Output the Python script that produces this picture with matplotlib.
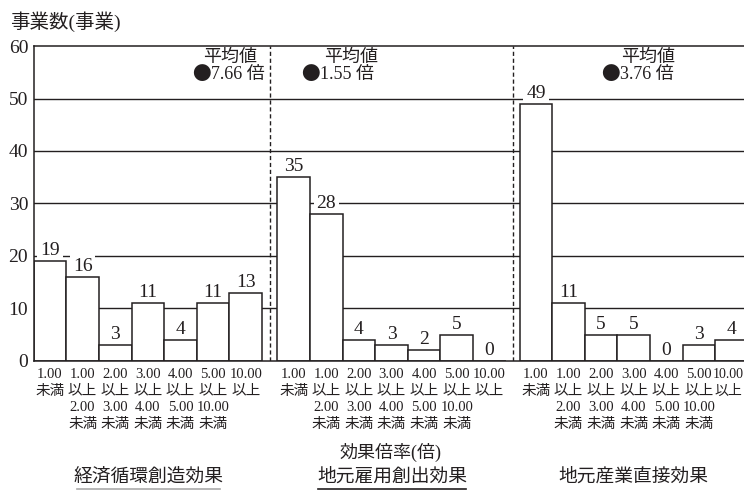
import matplotlib
matplotlib.use("Agg")
import matplotlib.pyplot as plt
from matplotlib.lines import Line2D

FAM = ['Liberation Serif', 'Noto Sans CJK JP']
plt.rcParams['font.family'] = FAM

categories = ["1.00\n未満", "1.00\n以上\n2.00\n未満", "2.00\n以上\n3.00\n未満",
              "3.00\n以上\n4.00\n未満", "4.00\n以上\n5.00\n未満",
              "5.00\n以上\n10.00\n未満", "10.00\n以上"]
group_names = ["経済循環創造効果", "地元雇用創出効果", "地元産業直接効果"]
keizai = [19, 16, 3, 11, 4, 11, 13]
koyou = [35, 28, 4, 3, 2, 5, 0]
sangyo = [49, 11, 5, 5, 0, 3, 4]
means = ["7.66", "1.55", "3.76"]
series = [keizai, koyou, sangyo]

INK = '#231f20'
TICK_FS = 10.5
TICK_LS = 1.36
fig = plt.figure(figsize=(7.44, 4.91), dpi=100)
ax = fig.add_axes([0.0453, 0.2648, 0.9547, 0.6415])

lefts = [0.0, 7.47, 14.9]
dashes = [7.25, 14.7]
mean_x = [6.02, 9.73, 18.84]
dot_x = [5.44, 8.77, 17.98]

ticks, ticklabels = [], []
for g, vals in enumerate(series):
    xs = [lefts[g] + i + 0.5 for i in range(len(vals))]
    ax.bar(xs, vals, width=1.0, color='white', edgecolor=INK, linewidth=1.1, zorder=2)
    for x, v in zip(xs, vals):
        ax.annotate(str(v), (x, v), xytext=(0, 1.5), textcoords='offset points',
                    ha='center', va='bottom', fontsize=14, color=INK, zorder=1.5,
                    bbox=dict(boxstyle='square,pad=0.15', fc='white', ec='none'))
    ticks += xs
    ticklabels += categories
    ax.text(mean_x[g], 57.9, "平均値", ha='center', va='center', fontsize=13, color=INK)
    ax.text(dot_x[g], 54.5, "●", ha='right', va='center', fontsize=13.5, color=INK,
            family=['Noto Sans CJK JP'])
    ax.text(dot_x[g], 54.5, means[g] + " 倍", ha='left', va='center',
            fontsize=13, color=INK)

for d in dashes:
    ax.plot([d, d], [0, 60], color=INK, linestyle=(0, (3, 2)), linewidth=1.0, zorder=3)

for y in range(10, 60, 10):
    ax.axhline(y, color=INK, linewidth=1.0, zorder=1)

ax.set_xlim(0, 21.78)
ax.set_ylim(0, 60)
ax.set_yticks(range(0, 61, 10))
ax.tick_params(axis='y', length=0, labelsize=14, colors=INK, pad=4)
ax.set_xticks(ticks)
shown = ticklabels[:-1] + [""]
ax.set_xticklabels(shown, fontsize=TICK_FS, color=INK, linespacing=TICK_LS, va='top')
ax.annotate(ticklabels[-1], xy=(1.0, 0), xycoords='axes fraction',
            xytext=(0, -5), textcoords='offset points', ha='right', va='top',
            multialignment='center', fontsize=10, color=INK, linespacing=1.43,
            annotation_clip=False)
ax.tick_params(axis='x', length=0, pad=5)
for s in ['left', 'bottom', 'top']:
    ax.spines[s].set_color(INK)
    ax.spines[s].set_linewidth(1.1)
ax.spines['right'].set_visible(False)

fig.text(10 / 744, 1 - 22 / 491, "事業数(事業)", ha='left', va='center', fontsize=14, color=INK)
fig.text(390 / 744, 1 - 452 / 491, "効果倍率(倍)", ha='center', va='center', fontsize=13, color=INK)
centers = [148, 392, 633]
for i, (c, n) in enumerate(zip(centers, group_names)):
    fig.text(c / 744, 1 - 477 / 491, n, ha='center', va='center', fontsize=13.5, color=INK)
ul = [(77, 220, '#aaaaaa'), (318, 466, INK)]
for x0, x1, col in ul:
    fig.add_artist(Line2D([x0 / 744, x1 / 744], [1 - 489 / 491] * 2, color=col, linewidth=1.2))

fig.savefig("out.png", dpi=100)
